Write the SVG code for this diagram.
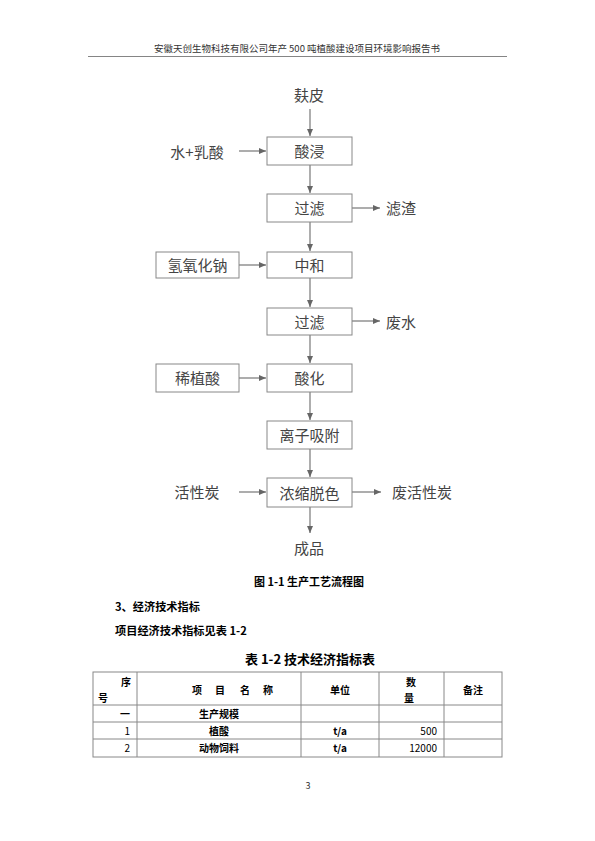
<svg xmlns="http://www.w3.org/2000/svg" width="595" height="841" viewBox="0 0 595 841">
<style>
.t{font-family:"Noto Sans CJK SC","Liberation Sans",sans-serif;fill:#333;}
.fl{font-size:15px;fill:#444;text-anchor:middle;dominant-baseline:central;}
.box{fill:#fff;stroke:#888;stroke-width:1;}
.ln{stroke:#777;stroke-width:1.2;fill:none;}
.b{font-weight:bold;fill:#000;}
.tb{font-size:10px;fill:#000;dominant-baseline:central;}
.grid{stroke:#888;stroke-width:1;fill:none;}
</style>
<defs>
<marker id="ah" markerWidth="8" markerHeight="8" refX="7" refY="4" orient="auto" markerUnits="userSpaceOnUse">
<path d="M0,1 L7,4 L0,7 Z" fill="#666"/>
</marker>
</defs>
<rect width="595" height="841" fill="#fff"/>
<text class="t" x="297" y="52" font-size="9.5" text-anchor="middle" fill="#222">安徽天创生物科技有限公司年产 500 吨植酸建设项目环境影响报告书</text>
<line x1="88" y1="56.5" x2="507" y2="56.5" stroke="#666" stroke-width="0.8"/>

<g id="connectors">
<line class="ln" x1="310" y1="109" x2="310" y2="136" marker-end="url(#ah)"/>
<line class="ln" x1="239" y1="151" x2="266" y2="151" marker-end="url(#ah)"/>
<line class="ln" x1="310" y1="165" x2="310" y2="193" marker-end="url(#ah)"/>
<line class="ln" x1="352" y1="208" x2="380" y2="208" marker-end="url(#ah)"/>
<line class="ln" x1="310" y1="222" x2="310" y2="251" marker-end="url(#ah)"/>
<line class="ln" x1="239" y1="265" x2="266" y2="265" marker-end="url(#ah)"/>
<line class="ln" x1="310" y1="278" x2="310" y2="307" marker-end="url(#ah)"/>
<line class="ln" x1="352" y1="321" x2="380" y2="321" marker-end="url(#ah)"/>
<line class="ln" x1="310" y1="335" x2="310" y2="363" marker-end="url(#ah)"/>
<line class="ln" x1="239" y1="378" x2="266" y2="378" marker-end="url(#ah)"/>
<line class="ln" x1="310" y1="392" x2="310" y2="420" marker-end="url(#ah)"/>
<line class="ln" x1="310" y1="449" x2="310" y2="477" marker-end="url(#ah)"/>
<line class="ln" x1="239" y1="492" x2="266" y2="492" marker-end="url(#ah)"/>
<line class="ln" x1="352" y1="492" x2="381" y2="492" marker-end="url(#ah)"/>
<line class="ln" x1="310" y1="507" x2="310" y2="533" marker-end="url(#ah)"/>
</g>

<g id="n-fupi"><text class="t fl" x="309" y="94">麸皮</text></g>
<g id="n-water"><text class="t fl" x="197" y="151">水+乳酸</text></g>
<g id="n-suanjin"><rect class="box" x="267" y="137" width="85" height="28"/><text class="t fl" x="309.5" y="150.5">酸浸</text></g>
<g id="n-guolv1"><rect class="box" x="267" y="194" width="85" height="28"/><text class="t fl" x="309.5" y="207.5">过滤</text></g>
<g id="n-lvzha"><text class="t fl" x="401" y="207.5">滤渣</text></g>
<g id="n-naoh"><rect class="box" x="156" y="252" width="83" height="26"/><text class="t fl" x="197.5" y="264.5">氢氧化钠</text></g>
<g id="n-zhonghe"><rect class="box" x="267" y="252" width="85" height="26"/><text class="t fl" x="309.5" y="264.5">中和</text></g>
<g id="n-guolv2"><rect class="box" x="267" y="308" width="85" height="27"/><text class="t fl" x="309.5" y="321">过滤</text></g>
<g id="n-feishui"><text class="t fl" x="401" y="321">废水</text></g>
<g id="n-xizhisuan"><rect class="box" x="156" y="364" width="83" height="28"/><text class="t fl" x="197.5" y="377.5">稀植酸</text></g>
<g id="n-suanhua"><rect class="box" x="267" y="364" width="85" height="28"/><text class="t fl" x="309.5" y="377.5">酸化</text></g>
<g id="n-lizi"><rect class="box" x="267" y="421" width="85" height="28"/><text class="t fl" x="309.5" y="434.5">离子吸附</text></g>
<g id="n-huoxingtan"><text class="t fl" x="197" y="491.5">活性炭</text></g>
<g id="n-nongsuo"><rect class="box" x="267" y="478" width="85" height="29"/><text class="t fl" x="309.5" y="492">浓缩脱色</text></g>
<g id="n-feihuo"><text class="t fl" x="422" y="491.5">废活性炭</text></g>
<g id="n-chengpin"><text class="t fl" x="309" y="547">成品</text></g>

<text class="t b" x="309" y="586" font-size="11" text-anchor="middle">图 1-1 生产工艺流程图</text>
<text class="t b" x="115" y="611" font-size="11.2">3、经济技术指标</text>
<text class="t b" x="115" y="635" font-size="11.2">项目经济技术指标见表 1-2</text>
<text class="t b" x="310" y="664" font-size="13" text-anchor="middle">表 1-2 技术经济指标表</text>

<g id="table">
<rect class="grid" x="93" y="672" width="409" height="85"/>
<line class="grid" x1="93" y1="705" x2="502" y2="705"/>
<line class="grid" x1="93" y1="722" x2="502" y2="722"/>
<line class="grid" x1="93" y1="739" x2="502" y2="739"/>
<line class="grid" x1="137" y1="672" x2="137" y2="757"/>
<line class="grid" x1="301" y1="672" x2="301" y2="757"/>
<line class="grid" x1="379" y1="672" x2="379" y2="757"/>
<line class="grid" x1="444" y1="672" x2="444" y2="757"/>
<text class="t b tb" x="131" y="681" text-anchor="end">序</text>
<text class="t b tb" x="98" y="697">号</text>
<text class="t b tb" x="197" y="689" text-anchor="middle">项</text>
<text class="t b tb" x="220" y="689" text-anchor="middle">目</text>
<text class="t b tb" x="245" y="689" text-anchor="middle">名</text>
<text class="t b tb" x="268" y="689" text-anchor="middle">称</text>
<text class="t b tb" x="340" y="689" text-anchor="middle">单位</text>
<text class="t b tb" x="411" y="681" text-anchor="middle">数</text>
<text class="t b tb" x="409" y="697" text-anchor="middle">量</text>
<text class="t b tb" x="473" y="689" text-anchor="middle">备注</text>
<text class="t b tb" x="130" y="713.5" text-anchor="end">一</text>
<text class="t b tb" x="219" y="713.5" text-anchor="middle">生产规模</text>
<text class="t tb" x="130" y="730.5" text-anchor="end">1</text>
<text class="t b tb" x="219" y="730.5" text-anchor="middle">植酸</text>
<text class="t b tb" x="340" y="730.5" text-anchor="middle">t/a</text>
<text class="t tb" x="437" y="730.5" text-anchor="end">500</text>
<text class="t tb" x="130" y="747.5" text-anchor="end">2</text>
<text class="t b tb" x="219" y="747.5" text-anchor="middle">动物饲料</text>
<text class="t b tb" x="340" y="747.5" text-anchor="middle">t/a</text>
<text class="t tb" x="437" y="747.5" text-anchor="end">12000</text>
</g>
<text class="t" x="308" y="789" font-size="9" text-anchor="middle" fill="#444">3</text>
</svg>
